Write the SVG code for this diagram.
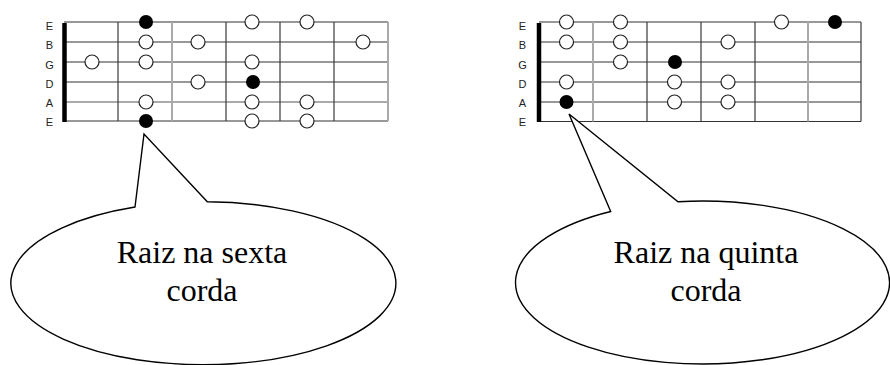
<svg xmlns="http://www.w3.org/2000/svg" width="890" height="365" viewBox="0 0 890 365">
<style>
.str{stroke:#333;stroke-width:1.2;fill:none}
.strg{stroke:#aaa;stroke-width:2;fill:none}
.strm{stroke:#777;stroke-width:1.3;fill:none}
.fret{stroke:#3a3a3a;stroke-width:1.2}
.fretg{stroke:#aaa;stroke-width:2}
.nut{stroke:#000;stroke-width:4.5}
.o{fill:#fff;stroke:#222;stroke-width:1.2}
.f{fill:#000}
.lbl{font-family:"Liberation Sans",Arial,sans-serif;font-size:11px;fill:#222;text-anchor:middle}
.txt{font-family:"Liberation Serif","Times New Roman",serif;font-size:32px;fill:#000;text-anchor:middle}
.bubble{fill:#fff;stroke:#000;stroke-width:1.4;stroke-linejoin:miter}
</style>
<rect width="890" height="365" fill="#fff"/>

<g id="fretboard-left">
  <g class="lbl">
    <text x="49.5" y="29.8">E</text>
    <text x="49.5" y="49.2">B</text>
    <text x="49.5" y="69.2">G</text>
    <text x="49.5" y="88.2">D</text>
    <text x="49.5" y="107.2">A</text>
    <text x="49.5" y="126.2">E</text>
  </g>
  <line class="str" x1="64" y1="22" x2="388" y2="22"/>
  <line class="str" x1="64" y1="42" x2="388" y2="42"/>
  <line class="str" x1="64" y1="62" x2="388" y2="62"/>
  <line class="strm" x1="64" y1="82" x2="388" y2="82"/>
  <line class="strg" x1="64" y1="102" x2="388" y2="102"/>
  <line class="str" x1="64" y1="121" x2="388" y2="121"/>
  <line class="fret" x1="118" y1="22" x2="118" y2="121"/>
  <line class="fretg" x1="172" y1="22" x2="172" y2="121"/>
  <line class="fret" x1="226" y1="22" x2="226" y2="121"/>
  <line class="fret" x1="280" y1="22" x2="280" y2="121"/>
  <line class="fret" x1="334" y1="22" x2="334" y2="121"/>
  <line class="fretg" x1="388" y1="22" x2="388" y2="121"/>
  <line class="nut" x1="64.5" y1="23" x2="64.5" y2="122"/>
  <circle class="f" cx="146" cy="22" r="7"/>
  <circle class="o" cx="252" cy="22" r="7"/>
  <circle class="o" cx="307" cy="22" r="7"/>
  <circle class="o" cx="146" cy="42" r="7"/>
  <circle class="o" cx="198" cy="42" r="7"/>
  <circle class="o" cx="363" cy="42" r="7"/>
  <circle class="o" cx="92" cy="62" r="7"/>
  <circle class="o" cx="146" cy="62" r="7"/>
  <circle class="o" cx="252" cy="62" r="7"/>
  <circle class="o" cx="198" cy="82" r="7"/>
  <circle class="f" cx="253" cy="82" r="7"/>
  <circle class="o" cx="146" cy="102" r="7"/>
  <circle class="o" cx="252" cy="102" r="7"/>
  <circle class="o" cx="307" cy="102" r="7"/>
  <circle class="f" cx="146" cy="121" r="7"/>
  <circle class="o" cx="252" cy="121" r="7"/>
  <circle class="o" cx="307" cy="121" r="7"/>
</g>

<g id="fretboard-right">
  <g class="lbl">
    <text x="522.5" y="29.8">E</text>
    <text x="522.5" y="49.2">B</text>
    <text x="522.5" y="69.2">G</text>
    <text x="522.5" y="88.2">D</text>
    <text x="522.5" y="107.2">A</text>
    <text x="522.5" y="126.2">E</text>
  </g>
  <line class="str" x1="539" y1="22" x2="861" y2="22"/>
  <line class="str" x1="539" y1="42" x2="861" y2="42"/>
  <line class="str" x1="539" y1="62" x2="861" y2="62"/>
  <line class="str" x1="539" y1="82" x2="861" y2="82"/>
  <line class="str" x1="539" y1="102" x2="861" y2="102"/>
  <line class="str" x1="539" y1="121.5" x2="861" y2="121.5"/>
  <line class="fretg" x1="593" y1="22" x2="593" y2="121.5"/>
  <line class="fret" x1="647" y1="22" x2="647" y2="121.5"/>
  <line class="fret" x1="701" y1="22" x2="701" y2="121.5"/>
  <line class="fret" x1="755" y1="22" x2="755" y2="121.5"/>
  <line class="fretg" x1="808" y1="22" x2="808" y2="121.5"/>
  <line class="fret" x1="861" y1="22" x2="861" y2="121.5"/>
  <line class="nut" x1="539" y1="23" x2="539" y2="122"/>
  <circle class="o" cx="566.5" cy="22" r="7"/>
  <circle class="o" cx="620.5" cy="22" r="7"/>
  <circle class="o" cx="781.5" cy="22" r="7"/>
  <circle class="f" cx="835" cy="22" r="7"/>
  <circle class="o" cx="566.5" cy="42" r="7"/>
  <circle class="o" cx="620.5" cy="42" r="7"/>
  <circle class="o" cx="728" cy="42" r="7"/>
  <circle class="o" cx="620.5" cy="62" r="7"/>
  <circle class="f" cx="675" cy="62" r="7"/>
  <circle class="o" cx="566.5" cy="82" r="7"/>
  <circle class="o" cx="674.5" cy="82" r="7"/>
  <circle class="o" cx="728" cy="82" r="7"/>
  <circle class="f" cx="566.5" cy="102" r="7"/>
  <circle class="o" cx="674.5" cy="102" r="7"/>
  <circle class="o" cx="728" cy="102" r="7"/>
</g>

<g id="bubble-left">
  <path class="bubble" d="M207.3,201.7 A192.5,81.5 0 1 1 135,207 L144,134 Z"/>
  <text class="txt" x="202" y="263">Raiz na sexta</text>
  <text class="txt" x="202" y="300.5">corda</text>
</g>

<g id="bubble-right">
  <path class="bubble" d="M678,201.7 A187,81.5 0 1 1 610.7,211.5 L569,114 Z"/>
  <text class="txt" x="706" y="263">Raiz na quinta</text>
  <text class="txt" x="706" y="300.5">corda</text>
</g>
</svg>
